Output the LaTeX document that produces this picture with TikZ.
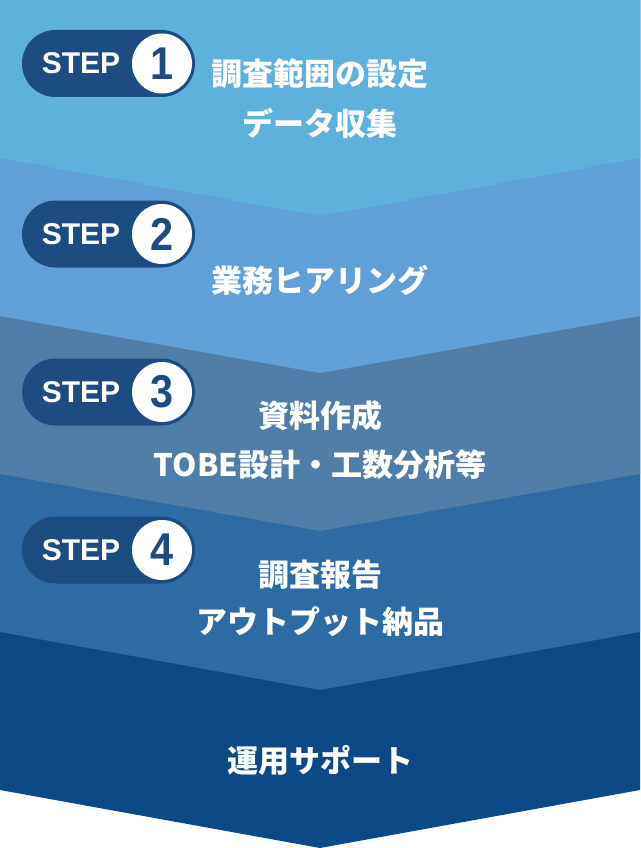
\documentclass[tikz,border=0pt]{standalone}
\usepackage{fontspec}
\setmainfont{Noto Sans CJK JP}
\newfontfamily\latinfont{Liberation Sans}
\definecolor{bandA}{HTML}{5EB1DC}
\definecolor{bandB}{HTML}{60A0D8}
\definecolor{bandC}{HTML}{4F7FA8}
\definecolor{bandD}{HTML}{2C6BA3}
\definecolor{bandE}{HTML}{0B4A87}
\definecolor{pillcol}{HTML}{1B4C82}
\tikzset{
  pill/.style={fill=pillcol, minimum width=173pt, minimum height=67pt, rounded corners=33.5pt, inner sep=0pt},
  numcirc/.style={circle, fill=white, minimum size=60pt, inner sep=0pt, text=pillcol, font=\latinfont\bfseries\fontsize{46}{46}\selectfont},
  steplbl/.style={text=white, inner sep=0pt, font=\latinfont\bfseries\fontsize{30}{30}\selectfont},
  desc/.style={text=white, inner sep=0pt, font=\bfseries\fontsize{31}{31}\selectfont}
}
\begin{document}
\begin{tikzpicture}[x=1pt,y=-1pt]
\useasboundingbox (0,0) rectangle (640,848);
\fill[white] (0,0) rectangle (640,848);
\fill[bandE] (0,0) -- (640,0) -- (640,790) -- (320,848) -- (0,790) -- cycle;
\fill[bandD] (0,0) -- (640,0) -- (640,632) -- (320,690) -- (0,632) -- cycle;
\fill[bandC] (0,0) -- (640,0) -- (640,474) -- (320,531) -- (0,474) -- cycle;
\fill[bandB] (0,0) -- (640,0) -- (640,316) -- (320,373) -- (0,316) -- cycle;
\fill[bandA] (0,0) -- (640,0) -- (640,158) -- (320,216) -- (0,158) -- cycle;

% STEP 1
\node[pill] (p1) at (108.5,63.5) {};
\node[steplbl] (s1) at (81,63.5) {STEP};
\node[numcirc] (n1) at (162,63.5) {\scalebox{0.9}[1]{1}};
\node[desc] (t1a) at (320,74) {調査範囲の設定};
\node[desc] (t1b) at (320,123) {データ収集};

% STEP 2
\node[pill] (p2) at (108.5,234) {};
\node[steplbl] (s2) at (81,234) {STEP};
\node[numcirc] (n2) at (162,234) {\scalebox{0.9}[1]{2}};
\node[desc] (t2a) at (320,280) {業務ヒアリング};

% STEP 3
\node[pill] (p3) at (108.5,392) {};
\node[steplbl] (s3) at (81,392) {STEP};
\node[numcirc] (n3) at (162,392) {\scalebox{0.9}[1]{3}};
\node[desc] (t3a) at (320,416) {資料作成};
\node[desc] (t3b) at (320,465) {TOBE設計・工数分析等};

% STEP 4
\node[pill] (p4) at (108.5,550) {};
\node[steplbl] (s4) at (81,550) {STEP};
\node[numcirc] (n4) at (162,550) {\scalebox{0.9}[1]{4}};
\node[desc] (t4a) at (320,575) {調査報告};
\node[desc] (t4b) at (320,622) {アウトプット納品};

% final
\node[desc] (t5a) at (320,760) {運用サポート};
\end{tikzpicture}
\end{document}
